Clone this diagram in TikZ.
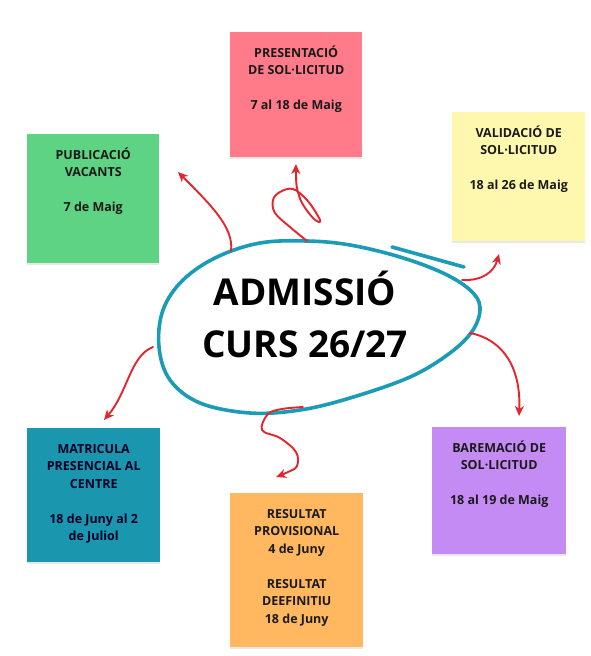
\documentclass[tikz,border=0pt]{standalone}
\usepackage{fontspec}
\setmainfont{Open Sans}
\usetikzlibrary{arrows.meta,shadows}
\definecolor{cpink}{HTML}{FF7B8A}
\definecolor{cgreen}{HTML}{5DD383}
\definecolor{cyellow}{HTML}{FDF8AE}
\definecolor{cteal}{HTML}{1A96AF}
\definecolor{cpurple}{HTML}{C58BF5}
\definecolor{corange}{HTML}{FFB860}
\definecolor{cblob}{HTML}{1B9BB5}
\definecolor{cred}{HTML}{E3262E}
\definecolor{ctext}{HTML}{1A1A1A}
\tikzset{
  note/.style={draw=none, rectangle, inner sep=0, anchor=north west,
    drop shadow={opacity=0.18, shadow xshift=0pt, shadow yshift=-2pt}},
  notetext/.style={anchor=north, inner sep=0, align=center, text=ctext,
    font=\bfseries\fontsize{12.5}{17.5}\selectfont},
  link/.style={draw=cred, line width=1.9pt, line cap=round, line join=round,
    -{Stealth[length=10pt,width=9pt,inset=3pt]}},
  blob/.style={draw=cblob, line width=3.6pt, line cap=round}
}
\begin{document}
\begin{tikzpicture}[x=1pt,y=-1pt]
\useasboundingbox[fill=white] (0,0) rectangle (591,656);
% boxes
\node[note, fill=cpink, minimum width=132pt, minimum height=125pt] (pres) at (230,32) {};
\node[note, fill=cgreen, minimum width=132pt, minimum height=129pt] (pub) at (27,134) {};
\node[note, fill=cyellow, minimum width=133pt, minimum height=129pt] (val) at (452,112) {};
\node[note, fill=cteal, minimum width=133pt, minimum height=134pt] (mat) at (27,428) {};
\node[note, fill=cpurple, minimum width=134pt, minimum height=127pt] (bar) at (432,427) {};
\node[note, fill=corange, minimum width=133pt, minimum height=154pt] (res) at (230,493) {};
% texts
\node[notetext] (presT) at ([yshift=-12.7pt]pres.north) {\strut PRESENTACIÓ\\DE SOL·LICITUD\\[17.5pt]7 al 18 de Maig};
\node[notetext] (pubT) at ([yshift=-12.7pt]pub.north) {\strut PUBLICACIÓ\\VACANTS\\[17.5pt]7 de Maig};
\node[notetext] (valT) at ([yshift=-12.7pt]val.north) {\strut VALIDACIÓ DE\\SOL·LICITUD\\[17.5pt]18 al 26 de Maig};
\node[notetext, text=black!85!blue] (matT) at ([yshift=-12.7pt]mat.north) {\strut MATRICULA\\PRESENCIAL AL\\CENTRE\\[17.5pt]18 de Juny al 2\\de Juliol};
\node[notetext] (barT) at ([yshift=-12.7pt]bar.north) {\strut BAREMACIÓ DE\\SOL·LICITUD\\[17.5pt]18 al 19 de Maig};
\node[notetext] (resT) at ([yshift=-12.7pt]res.north) {\strut RESULTAT\\PROVISIONAL\\4 de Juny\\[17.5pt]RESULTAT\\DEEFINITIU\\18 de Juny};
% central blob
\draw[blob] plot[smooth cycle, tension=0.6] coordinates {(307,241) (350,245) (400,257) (443,273) (470,290) (480,307) (473,330) (450,353) (410,377) (350,398) (300,410) (250,413) (200,403) (170,380) (159,347) (163,310) (183,280) (217,257) (260,243)};
\coordinate (t1) at (392,247);
\coordinate (t2) at (464,267);
\draw[blob] (t1) -- (t2);
\node[font=\bfseries\fontsize{37}{52}\selectfont, align=center, inner sep=0, anchor=north, text=black] (title) at (305,268.6) {\strut ADMISSIÓ\\CURS 26/27};
% connector ends
\coordinate (s1) at (231,251);
\coordinate (e1) at (178,172);
\coordinate (s2) at (307,241);
\coordinate (e2) at (296,164);
\coordinate (s3) at (462,280);
\coordinate (e3) at (499,254);
\coordinate (s4) at (470,333);
\coordinate (e4) at (519,416);
\coordinate (s5) at (303,407);
\coordinate (e5) at (276,477);
\coordinate (s6) at (153,347);
\coordinate (e6) at (104,420);
% connectors
\draw[link] (s1) .. controls (234,228) and (212,206) .. (e1);
\draw[link] plot[smooth, tension=0.6] coordinates {(s2) (290,227) (275,213) (273,200) (280,192) (293,189) (307,200) (318,216) (320,222) (313,218) (302,203) (297,188) (296,175) (e2)};
\draw[link] (s3) .. controls (482,281) and (494,272) .. (e3);
\draw[link] (s4) .. controls (505,340) and (521,370) .. (e4);
\draw[link] plot[smooth, tension=0.6] coordinates {(s5) (282,409) (268,414) (262,430) (280,438) (296,452) (297,466) (288,472) (e5)};
\draw[link] (s6) .. controls (130,356) and (128,392) .. (e6);
\end{tikzpicture}
\end{document}
